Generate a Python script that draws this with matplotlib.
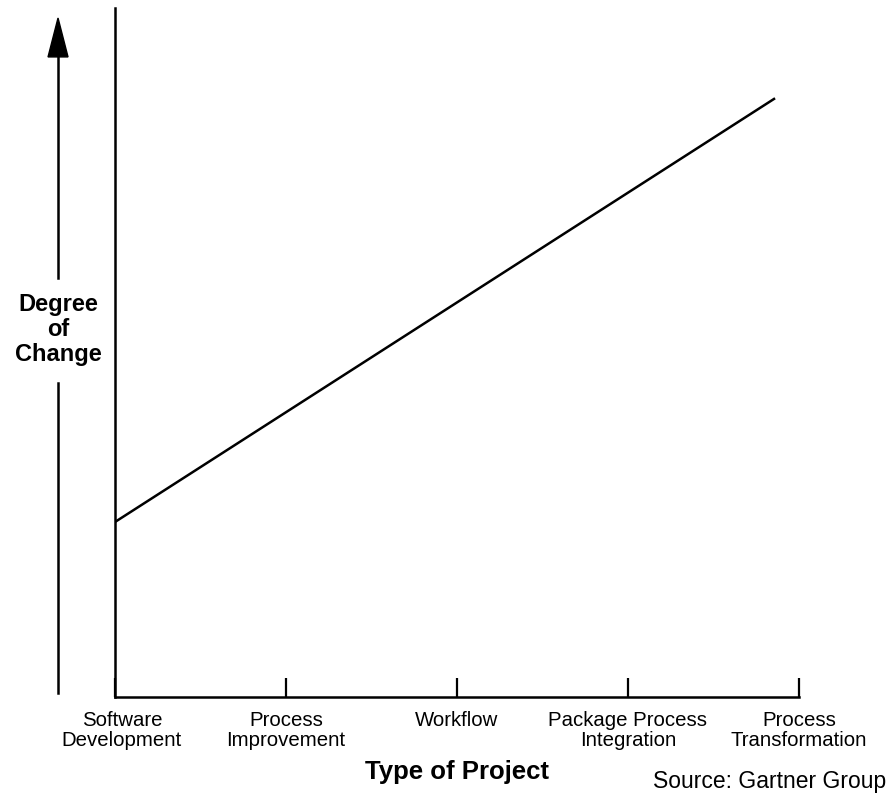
import numpy as np
import matplotlib.pyplot as plt
import matplotlib.transforms as mtransforms
from matplotlib.patches import Polygon

plt.rcParams['font.family'] = ['Liberation Sans', 'DejaVu Sans']

# Data
projects = ['Software\nDevelopment', 'Process\nImprovement', 'Workflow',
            'Package Process\nIntegration', 'Process\nTransformation']
line_x = [0.0, 3.86]
line_y = [25.4, 86.9]

fig = plt.figure(figsize=(8.87, 7.93), dpi=100)
ax = fig.add_axes([115 / 887, 1 - 697 / 793, 684 / 887, 689 / 793])

ax.plot(line_x, line_y, color='black', lw=1.8, solid_capstyle='butt')

ax.set_xlim(0, 4)
ax.set_ylim(0, 100)
ax.set_xticks(np.arange(len(projects)))
ax.set_xticklabels(projects, fontsize=14.7, linespacing=1.08)
ax.set_yticks([])
ax.tick_params(axis='x', direction='in', length=14, width=1.6, pad=10)
for s in ['top', 'right']:
    ax.spines[s].set_visible(False)
for s in ['left', 'bottom']:
    ax.spines[s].set_linewidth(1.8)

# first label sits a little right of its tick
lbl = ax.get_xticklabels()[0]
lbl.set_transform(lbl.get_transform() +
                  mtransforms.ScaledTranslation(0.07, 0, fig.dpi_scale_trans))

ax.set_xlabel('Type of Project', fontsize=18.5, fontweight='bold', labelpad=7)

# y "axis" arrow, broken by the label
ax_x = -0.0833
ax.plot([ax_x, ax_x], [0.0058, 0.456], color='black', lw=1.8,
        transform=ax.transAxes, clip_on=False)
ax.plot([ax_x, ax_x], [0.608, 0.93], color='black', lw=1.8,
        transform=ax.transAxes, clip_on=False)
head = Polygon([[ax_x - 0.0146, 0.929], [ax_x + 0.0146, 0.929], [ax_x, 0.9855]],
               closed=True, color='black', transform=ax.transAxes, clip_on=False)
ax.add_patch(head)
ax.text(ax_x, 0.533, 'Degree\nof\nChange', transform=ax.transAxes,
        ha='center', va='center', fontsize=17, fontweight='bold', linespacing=1.1)

fig.text(886 / 887, 1 - 788 / 793, 'Source: Gartner Group', ha='right',
         va='baseline', fontsize=16.5)

fig.savefig('out.png', dpi=100)
